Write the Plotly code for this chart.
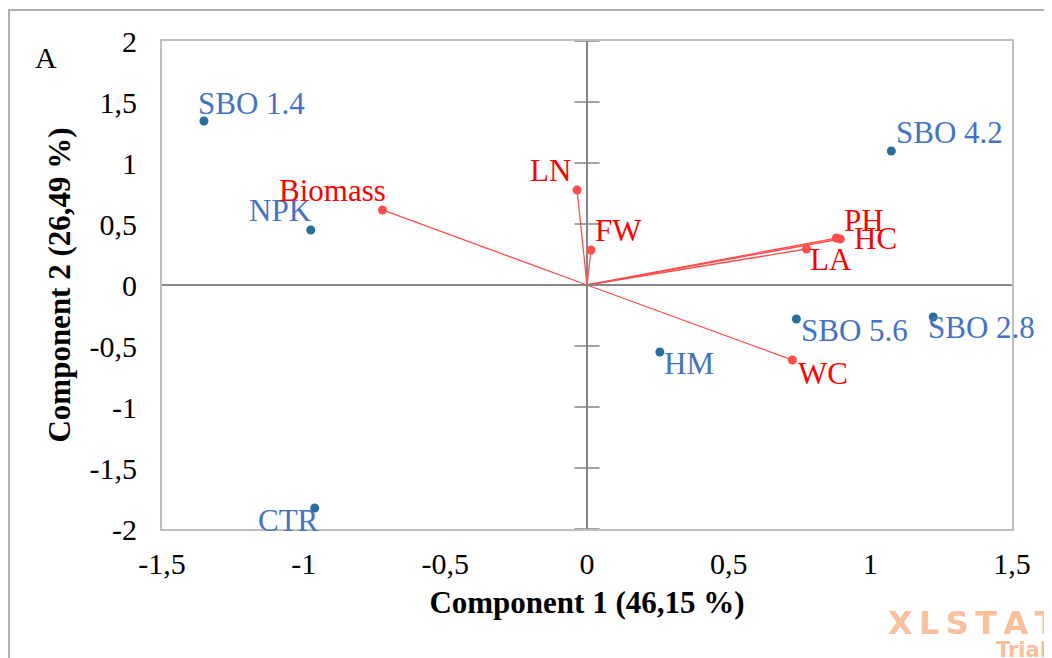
import plotly.graph_objects as go

# ---- data ----
obs_names = ["SBO 1.4", "SBO 4.2", "NPK", "CTR", "HM", "SBO 5.6", "SBO 2.8"]
obs_x = [-1.352, 1.074, -0.975, -0.961, 0.257, 0.739, 1.222]
obs_y = [1.344, 1.098, 0.451, -1.828, -0.549, -0.279, -0.262]

var_names = ["LN", "FW", "PH", "HC", "LA", "WC", "Biomass"]
var_x = [-0.035, 0.014, 0.880, 0.894, 0.775, 0.725, -0.722]
var_y = [0.779, 0.287, 0.385, 0.377, 0.295, -0.615, 0.615]

tick_vals_x = [-1.5, -1, -0.5, 0, 0.5, 1, 1.5]
tick_text_x = ["-1,5", "-1", "-0,5", "0", "0,5", "1", "1,5"]
tick_vals_y = [-2, -1.5, -1, -0.5, 0, 0.5, 1, 1.5, 2]
tick_text_y = ["-2", "-1,5", "-1", "-0,5", "0", "0,5", "1", "1,5", "2"]

x_title = "Component 1 (46,15 %)"
y_title = "Component 2 (26,49 %)"
panel_label = "A"

# ---- label placement (style) ----
obs_label_style = {
    "SBO 1.4": ("left", -8, 18),
    "SBO 4.2": ("left", 3, 19),
    "NPK": ("right", 3, 19),
    "CTR": ("right", 6, -12),
    "HM": ("left", 2, -12),
    "SBO 5.6": ("left", 3, -11),
    "SBO 2.8": ("left", -7, -11),
}
var_label_style = {
    "LN": ("right", -4, 19),
    "FW": ("left", 2, 19),
    "PH": ("left", 6, 18),
    "HC": ("left", 12, 1),
    "LA": ("left", 1, -10),
    "WC": ("left", 4, -13),
    "Biomass": ("right", 6, 19),
}

SERIF = "Liberation Serif"
OBS_DOT = "#27709a"
OBS_TXT = "#4472c4"
VAR_LINE = "#ff4d4d"
VAR_TXT = "#ff0000"
AXIS_GRAY = "#868686"
WM = "#f8c09c"

# page offset from default body margin
OFF = 8
L, T, PW, PH_ = 154, 33, 850, 488
W, H = 1044, 650


def pxx(xp):
    return (xp - OFF - L) / PW


def pxy(yp):
    return (T + PH_ - (yp - OFF)) / PH_


fig = go.Figure()

# variable vectors
lx, ly = [], []
for x, y in zip(var_x, var_y):
    lx += [0, x, None]
    ly += [0, y, None]
fig.add_trace(go.Scatter(x=lx, y=ly, mode="lines",
                         line=dict(color=VAR_LINE, width=1.3),
                         hoverinfo="skip", showlegend=False))

# tick marks on the vertical zero axis
fig.add_trace(go.Scatter(x=[0] * len(tick_vals_y), y=tick_vals_y, mode="markers",
                         marker=dict(symbol="line-ew", size=18,
                                     line=dict(color=AXIS_GRAY, width=1.5)),
                         hoverinfo="skip", showlegend=False))

fig.add_trace(go.Scatter(x=var_x, y=var_y, mode="markers",
                         marker=dict(color=VAR_LINE, size=9),
                         text=var_names, showlegend=False))
fig.add_trace(go.Scatter(x=obs_x, y=obs_y, mode="markers",
                         marker=dict(color=OBS_DOT, size=9),
                         text=obs_names, showlegend=False))

annotations = []
for n, x, y in zip(obs_names, obs_x, obs_y):
    anc, dx, dy = obs_label_style[n]
    annotations.append(dict(x=x, y=y, xref="x", yref="y", text=n, showarrow=False,
                            xanchor=anc, yanchor="middle", xshift=dx, yshift=dy,
                            font=dict(family=SERIF, size=31, color=OBS_TXT)))
for n, x, y in zip(var_names, var_x, var_y):
    anc, dx, dy = var_label_style[n]
    annotations.append(dict(x=x, y=y, xref="x", yref="y", text=n, showarrow=False,
                            xanchor=anc, yanchor="middle", xshift=dx, yshift=dy,
                            font=dict(family=SERIF, size=31, color=VAR_TXT)))

annotations.append(dict(x=pxx(33), y=pxy(57), xref="paper", yref="paper", text=panel_label,
                        showarrow=False, xanchor="left", yanchor="middle",
                        font=dict(family=SERIF, size=30, color="black")))
annotations.append(dict(x=pxx(886), y=pxy(623), xref="paper", yref="paper",
                        text="X\u2009L\u2009S\u2009T\u2009A\u2009T",
                        showarrow=False, xanchor="left", yanchor="middle",
                        font=dict(family="DejaVu Sans", size=32, color=WM, weight="bold")))
annotations.append(dict(x=pxx(994), y=pxy(650), xref="paper", yref="paper",
                        text="Trial", showarrow=False, xanchor="left", yanchor="middle",
                        font=dict(family="DejaVu Sans", size=21, color=WM, weight="bold")))

fig.update_layout(
    width=W, height=H,
    margin=dict(l=L, r=W - L - PW, t=T, b=H - T - PH_),
    paper_bgcolor="white", plot_bgcolor="white",
    annotations=annotations,
    font=dict(family=SERIF, color="black"),
    shapes=[dict(type="rect", xref="paper", yref="paper",
                 x0=pxx(9), x1=pxx(1070), y0=pxy(680), y1=pxy(10),
                 line=dict(color="#b0b0b0", width=2), layer="below")],
)
fig.update_xaxes(range=[-1.5, 1.5], tickvals=tick_vals_x, ticktext=tick_text_x,
                 showgrid=False, zeroline=True, zerolinecolor=AXIS_GRAY, zerolinewidth=2,
                 showline=True, mirror=True, linecolor="#bfbfbf", linewidth=2,
                 ticks="", ticklabelstandoff=7,
                 tickfont=dict(family=SERIF, size=30, color="black"),
                 title=dict(text="<b>" + x_title + "</b>", standoff=12,
                            font=dict(family=SERIF, size=31, color="black")))
fig.update_yaxes(range=[-2, 2], tickvals=tick_vals_y, ticktext=tick_text_y,
                 showgrid=False, zeroline=True, zerolinecolor=AXIS_GRAY, zerolinewidth=2,
                 showline=True, mirror=True, linecolor="#bfbfbf", linewidth=2,
                 ticks="", ticklabelstandoff=17,
                 tickfont=dict(family=SERIF, size=30, color="black"),
                 title=dict(text="<b>" + y_title + "</b>", standoff=10,
                            font=dict(family=SERIF, size=31, color="black")))

fig.write_html("out.html")
